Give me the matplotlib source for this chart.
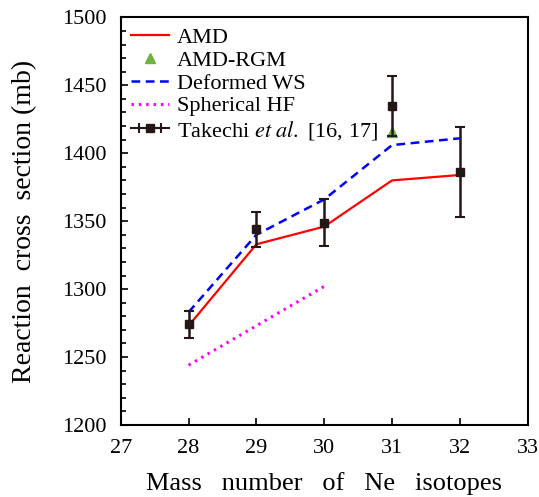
import numpy as np
import matplotlib
matplotlib.use('Agg')
import matplotlib.pyplot as plt
from matplotlib.ticker import MultipleLocator

plt.rcParams['font.family'] = ['Liberation Serif', 'DejaVu Serif']
plt.rcParams['mathtext.fontset'] = 'stix'

# data
mass_amd = [28, 29, 30, 31, 32]
sigma_amd = [1273, 1333, 1346, 1380, 1384]

mass_rgm = [31]
sigma_rgm = [1416]

mass_ws = [28, 29, 30, 31, 32]
sigma_ws = [1283, 1340, 1366, 1406, 1411]

mass_hf = [28, 30]
sigma_hf = [1244, 1302]

mass_exp = [28, 29, 30, 31, 32]
sigma_exp = [1274, 1344, 1349, 1435, 1386]
err_exp = [10, 13, 17, 22, 33]

fig = plt.figure(figsize=(5.39, 4.97), dpi=100)
ax = fig.add_axes([0.224, 0.145, 0.755, 0.820])

ax.plot(mass_amd, sigma_amd, '-', color='#ff0000', lw=1.6, label='AMD')
ax.plot(mass_rgm, sigma_rgm, '^', color='#6db33f', ms=7, ls='none', label='AMD-RGM')
ax.plot(mass_ws, sigma_ws, '--', color='#0000ff', lw=1.8, dashes=(3.5, 2.2), label='Deformed WS')
ax.plot(mass_hf, sigma_hf, ':', color='#ff00ff', lw=2.2, dashes=(0.8, 1.6), label='Spherical HF')
ax.errorbar(mass_exp, sigma_exp, yerr=err_exp, fmt='s', color='#231815', ms=6,
            elinewidth=1.8, capsize=3.5, capthick=1.5)
# legend proxy for experimental data (horizontal bar style)
ax.errorbar([np.nan], [np.nan], xerr=[1], fmt='-s', color='#231815', ms=6, lw=1.5,
            elinewidth=1.5, capsize=3.5, capthick=1.5,
            label=r'Takechi $\mathit{et\ al.}$ [16, 17]')

ax.set_xlim(27, 33)
ax.set_ylim(1200, 1500)
ax.xaxis.set_major_locator(MultipleLocator(1))
ax.yaxis.set_major_locator(MultipleLocator(50))
ax.yaxis.set_minor_locator(MultipleLocator(10))
ax.tick_params(which='both', direction='in', labelsize=16, width=1.2, top=False, right=False)
ax.tick_params(which='major', length=5)
ax.tick_params(which='minor', length=3.5)
ax.tick_params(axis='x', pad=10)
ax.tick_params(axis='y', pad=10)
for s in ax.spines.values():
    s.set_linewidth(1.5)

ax.set_xlabel('Mass   number   of   Ne   isotopes', fontsize=19, labelpad=10)
ax.set_ylabel('Reaction  cross  section (mb)', fontsize=20)
ax.yaxis.set_label_coords(-0.206, 0.5)

ax.legend(loc='upper left', frameon=False, fontsize=16, handlelength=1.7,
          handletextpad=0.36, labelspacing=0.1, borderpad=0.3, borderaxespad=0.15)

fig.savefig('out.png', dpi=100)
